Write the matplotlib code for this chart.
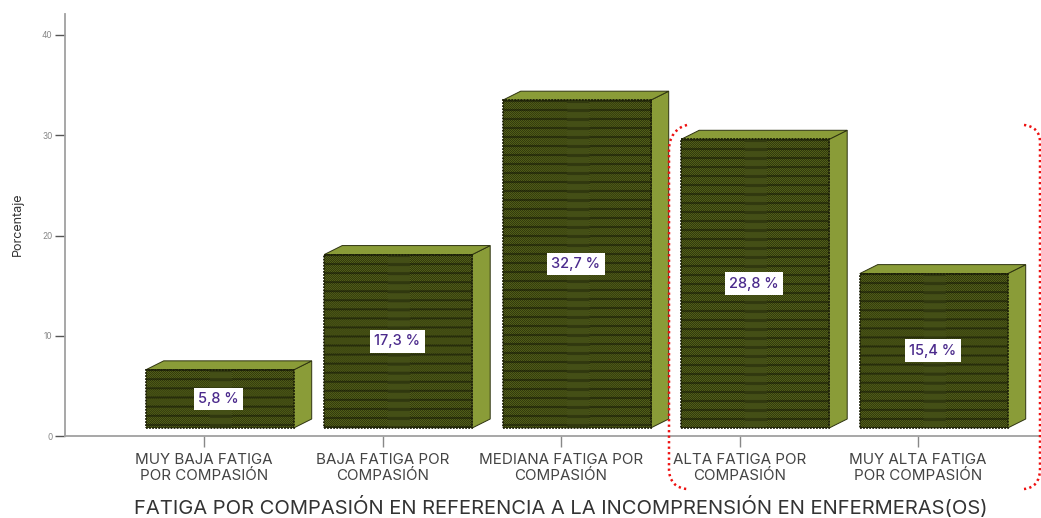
#!/usr/bin/env python3

# Fatiga por compasion - 3D style bars
import numpy as np
import matplotlib
matplotlib.use('Agg')
import matplotlib.pyplot as plt
from matplotlib.patches import Polygon, PathPatch
from matplotlib.path import Path

categorias = ['MUY BAJA FATIGA\nPOR COMPASIÓN', 'BAJA FATIGA POR\nCOMPASIÓN',
              'MEDIANA FATIGA POR\nCOMPASIÓN', 'ALTA FATIGA POR\nCOMPASIÓN',
              'MUY ALTA FATIGA\nPOR COMPASIÓN']
porcentajes = [5.8, 17.3, 32.7, 28.8, 15.4]
etiquetas = ['5,8 %', '17,3 %', '32,7 %', '28,8 %', '15,4 %']
yticks = [0, 10, 20, 30, 40]

W, H = 1041, 518
plt.rcParams['font.family'] = ['Inter', 'DejaVu Sans']


def textura(w, h):
    # dark olive weave seen in the bar fronts, drawn at 3x so it resamples softly
    yy, xx = np.mgrid[0:h, 0:w]
    claro = np.array([0.40, 0.46, 0.12])
    oscuro = np.array([0.12, 0.14, 0.03])
    punto = ((xx // 3) + (yy // 3)) % 2 == 0
    img = np.where(punto[..., None], claro, oscuro)
    franja = (yy % 27) < 6
    img[franja] = img[franja] * 0.6
    banda = (xx >= w * 0.43) & (xx < w * 0.58)
    img[banda] = np.array([0.27, 0.31, 0.09])
    img[banda & (yy % 27 < 9)] = np.array([0.19, 0.22, 0.06])
    return img


fig = plt.figure(figsize=(W / 100, H / 100), dpi=100)
ax = fig.add_axes([65 / W, 1 - 436 / H, (1040 - 65) / W, (436 - 14) / H])

px_x = 178.5
px_y = 10.025

ancho = 148 / px_x
desp = 15.7 / px_x
prof_x = 18 / px_x
prof_y = 9 / px_y
base = 8 / px_y
olivo = '#8a9c38'
borde = '#2e3310'

for i, v in enumerate(porcentajes):
    x0 = i - ancho / 2 + desp
    x1 = x0 + ancho
    y0 = base
    y1 = base + v
    # side and top faces
    ax.add_patch(Polygon([(x1, y0), (x1 + prof_x, y0 + prof_y), (x1 + prof_x, y1 + prof_y), (x1, y1)],
                         closed=True, facecolor=olivo, edgecolor=borde, linewidth=0.7, clip_on=False, zorder=2))
    ax.add_patch(Polygon([(x0, y1), (x0 + prof_x, y1 + prof_y), (x1 + prof_x, y1 + prof_y), (x1, y1)],
                         closed=True, facecolor=olivo, edgecolor=borde, linewidth=0.7, clip_on=False, zorder=2))
    ax.imshow(textura(148 * 3, int(round(v * px_y)) * 3), extent=(x0, x1, y0, y1), aspect='auto',
              interpolation='antialiased', clip_on=False, zorder=3)
    # rough dark outline of the front
    ax.add_patch(Polygon([(x0, y0), (x1, y0), (x1, y1), (x0, y1)], closed=True, facecolor='none',
                         edgecolor='#1d2008', linewidth=1.3, linestyle=(0, (1, 0.7)), clip_on=False, zorder=3.5))
    ax.text(x0 + ancho / 2 - 1 / px_x, (y0 + y1) / 2, etiquetas[i], ha='center', va='center',
            fontsize=10.5, fontweight='medium', color='#4b2a8c', zorder=4,
            bbox=dict(facecolor='white', edgecolor='none', pad=3.2))

ax.set_xlim((65 - 204) / px_x, (1040 - 204) / px_x)
ax.set_ylim(0, (436 - 14) / px_y)

ax.spines['top'].set_visible(False)
ax.spines['right'].set_visible(False)
for s in ['left', 'bottom']:
    ax.spines[s].set_color('#a0a0a0')
    ax.spines[s].set_linewidth(1.3)

ax.set_yticks(yticks)
ax.tick_params(axis='y', length=7, width=1, color='#555555', labelsize=6, labelcolor='#888888', pad=2)
ax.set_xticks(range(len(categorias)))
ax.set_xticklabels(categorias, fontsize=10.9, color='#444444', linespacing=1.22)
ax.tick_params(axis='x', length=8, width=1, color='#888888', pad=4)

fig.text(18 / W, 1 - 224 / H, 'Porcentaje', rotation=90, ha='center', va='center', fontsize=9, color='#333333')
fig.text(561 / W, 1 - 507 / H, 'FATIGA POR COMPASIÓN EN REFERENCIA A LA INCOMPRENSIÓN EN ENFERMERAS(OS)',
         ha='center', va='center', fontsize=14.5, color='#333333')


# red dotted bracket, given in image pixels
def trazo(puntos):
    verts = [(x / W, 1 - y / H) for x, y in puntos]
    codes = [Path.MOVETO, Path.CURVE4, Path.CURVE4, Path.CURVE4, Path.LINETO,
             Path.CURVE4, Path.CURVE4, Path.CURVE4]
    fig.add_artist(PathPatch(Path(verts, codes), facecolor='none', edgecolor='#ee1111', linewidth=1.8,
                             linestyle=(0, (0.9, 1.3)), transform=fig.transFigure))


trazo([(687, 125), (675, 128), (669, 138), (669, 150), (669, 468), (669, 482), (676, 488), (687, 489)])
trazo([(1024, 125), (1034, 126), (1040, 132), (1040, 142), (1040, 468), (1040, 482), (1034, 488), (1024, 489)])

fig.savefig('out.png', dpi=100)
